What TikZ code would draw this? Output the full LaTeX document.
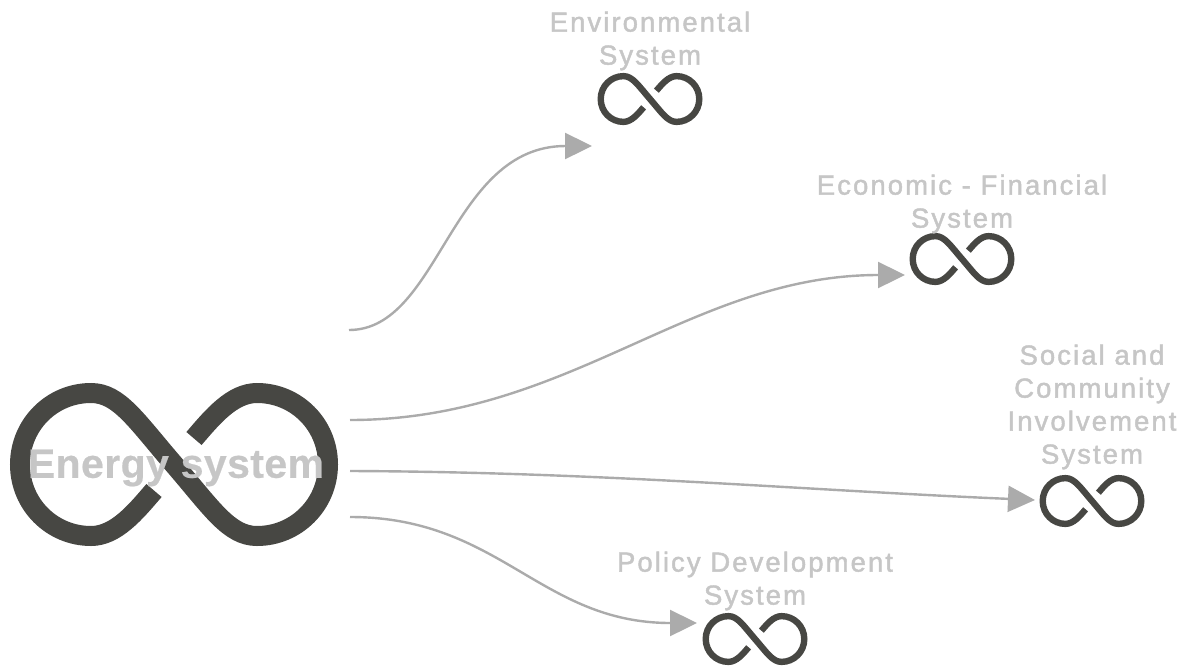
\documentclass[tikz,border=0pt]{standalone}
\usepackage{fontspec}
\setmainfont{Liberation Sans}
\usetikzlibrary{arrows.meta}
\definecolor{symdark}{HTML}{474743}
\definecolor{labelgray}{HTML}{C6C6C6}
\definecolor{linkgray}{HTML}{ABABAB}
\newfontfamily\labelfont[LetterSpace=7.5,FakeBold=1.6]{Liberation Sans}
\newfontfamily\titlefont[LetterSpace=1,FakeBold=0.5]{Liberation Sans Bold}
\tikzset{
  link/.style={draw=linkgray,line width=2.4pt,-{Triangle[length=27pt,width=26pt,fill=linkgray]}},
  linklabel/.style={text=labelgray,font=\labelfont\fontsize{27.5}{33}\selectfont,align=center,inner sep=0pt},
  biglabel/.style={text=labelgray,font=\titlefont\fontsize{41}{47}\selectfont,inner sep=0pt},
  pics/infinity/.style={code={
    \draw[symdark,line width=#1,line cap=butt]
      (20,-26) .. controls (38,-47) and (58,-71.5) .. (83,-71.5)
      .. controls (122,-71.5) and (154,-40) .. (154,0)
      .. controls (154,40) and (122,71.5) .. (83,71.5)
      .. controls (55,71.5) and (38,44) .. (0,0)
      .. controls (-38,-44) and (-55,-71.5) .. (-83,-71.5)
      .. controls (-122,-71.5) and (-154,-40) .. (-154,0)
      .. controls (-154,40) and (-122,71.5) .. (-83,71.5)
      .. controls (-58,71.5) and (-38,47) .. (-20,26);
  }}
}
\begin{document}
\begin{tikzpicture}[x=1pt,y=-1pt]
\useasboundingbox (0,0) rectangle (1192,670);
\pic at (174,464.5) {infinity=20pt};
\pic[scale=0.32] at (650,99) {infinity=6.4pt};
\pic[scale=0.32] at (962,259) {infinity=6.4pt};
\pic[scale=0.32] at (1092,501) {infinity=6.4pt};
\pic[scale=0.32] at (755,639) {infinity=6.4pt};
\node[biglabel,anchor=center] (energy) at (176,468) {Energy system};
\node[linklabel] (env) at (650,41) {Environmental\\System};
\node[linklabel] (econ) at (962,204) {Economic - Financial\\System};
\node[linklabel] (soc) at (1092,407) {Social and\\Community\\Involvement\\System};
\node[linklabel] (pol) at (755,581) {Policy Development\\System};
\coordinate (s1) at (349,330);
\coordinate (s2) at (350,420);
\coordinate (s3) at (350,471);
\coordinate (s4) at (350,517);
\coordinate (e1) at (592,146);
\coordinate (e2) at (905,275);
\coordinate (e3) at (1035,500);
\coordinate (e4) at (697,623);
\draw[link] (s1) .. controls (440,330) and (450,146) .. (e1);
\draw[link] (s2) .. controls (570,420) and (690,275) .. (e2);
\draw[link] (s3) .. controls (600,472) and (800,490) .. (e3);
\draw[link] (s4) .. controls (500,517) and (540,623) .. (e4);
\end{tikzpicture}
\end{document}
